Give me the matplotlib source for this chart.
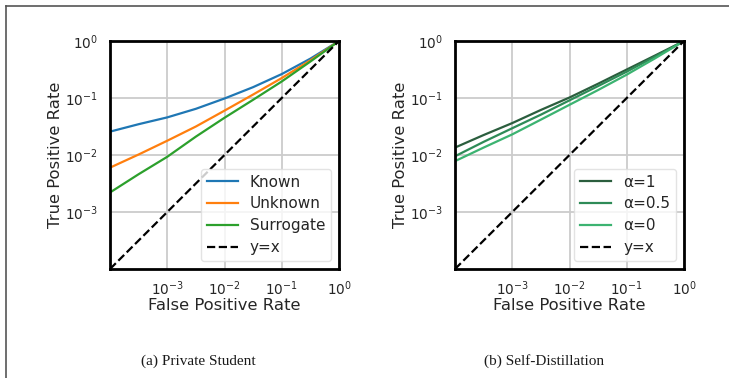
import matplotlib
matplotlib.use("Agg")
import matplotlib.pyplot as plt
from matplotlib.lines import Line2D

# ---- data ----
fpr = [1e-4, 3.16e-4, 1e-3, 3.16e-3, 1e-2, 3.16e-2, 1e-1, 3.16e-1, 1.0]

known = [0.0257, 0.0347, 0.0457, 0.0646, 0.098, 0.155, 0.263, 0.49, 1.0]
unknown = [0.0060, 0.0102, 0.0178, 0.0316, 0.060, 0.115, 0.224, 0.457, 1.0]
surrogate = [0.0022, 0.0046, 0.0093, 0.021, 0.045, 0.093, 0.195, 0.436, 1.0]

alpha1 = [0.0135, 0.0224, 0.0363, 0.0617, 0.102, 0.178, 0.316, 0.56, 1.0]
alpha05 = [0.0095, 0.017, 0.0295, 0.051, 0.091, 0.162, 0.29, 0.535, 1.0]
alpha0 = [0.0078, 0.0135, 0.023, 0.0417, 0.076, 0.138, 0.257, 0.50, 1.0]

diag = [1e-4, 1.0]

labels_a = ["Known", "Unknown", "Surrogate"]
labels_b = ["\u03b1=1", "\u03b1=0.5", "\u03b1=0"]
colors_a = ["#1f77b4", "#ff7f0e", "#2ca02c"]
colors_b = ["#2b5e3e", "#2e8b57", "#3cb371"]

tick_vals = [1e-3, 1e-2, 1e-1, 1.0]
tick_labels = [r"$10^{-3}$", r"$10^{-2}$", r"$10^{-1}$", r"$10^{0}$"]
captions = ["(a) Private Student", "(b) Self-Distillation"]

plt.rcParams['font.family'] = ['DejaVu Sans']

fig = plt.figure(figsize=(7.29, 3.78), dpi=100)
fig.patch.set_facecolor("white")

W, H = 729.0, 378.0
ax_a = fig.add_axes([110 / W, (H - 269) / H, 229 / W, 228 / H])
ax_b = fig.add_axes([455 / W, (H - 269) / H, 229 / W, 228 / H])


def style(ax):
    ax.set_xscale("log")
    ax.set_yscale("log")
    ax.set_xlim(1e-4, 1.0)
    ax.set_ylim(1e-4, 1.0)
    ax.set_xticks(tick_vals)
    ax.set_xticklabels(tick_labels)
    ax.set_yticks(tick_vals)
    ax.set_yticklabels(tick_labels)
    ax.minorticks_off()
    ax.grid(True, color="#cccccc", linewidth=1.3)
    ax.set_axisbelow(True)
    ax.tick_params(axis="x", length=0, pad=7.5, labelsize=9.8, colors="#262626")
    ax.tick_params(axis="y", length=0, pad=9, labelsize=9.8, colors="#262626")
    for s in ax.spines.values():
        s.set_color("black")
        s.set_linewidth(2.0)
    ax.set_xlabel("False Positive Rate", fontsize=11.8, color="#262626", labelpad=0)
    ax.set_ylabel("True Positive Rate", fontsize=11.8, color="#262626", labelpad=1)


for ys, lab, c in zip([known, unknown, surrogate], labels_a, colors_a):
    ax_a.plot(fpr, ys, color=c, lw=1.6, label=lab)
ax_a.plot(diag, diag, color="black", ls="--", lw=1.6, label="y=x")

for ys, lab, c in zip([alpha1, alpha05, alpha0], labels_b, colors_b):
    ax_b.plot(fpr, ys, color=c, lw=1.6, label=lab)
ax_b.plot(diag, diag, color="black", ls="--", lw=1.6, label="y=x")

for ax in (ax_a, ax_b):
    style(ax)
    leg = ax.legend(loc="lower right", fontsize=11.0, framealpha=0.8,
                    edgecolor="#dddddd", handlelength=2.0, labelspacing=0.45)
    for t in leg.get_texts():
        t.set_color("#262626")

# captions
fig.text(198 / W, 1 - 361 / H, captions[0], ha="center", va="center",
         family="Liberation Serif", fontsize=11.0, color="#1a1a1a")
fig.text(544 / W, 1 - 361 / H, captions[1], ha="center", va="center",
         family="Liberation Serif", fontsize=11.0, color="#1a1a1a")

# page frame lines (top and left)
fig.add_artist(Line2D([5.5 / W, 5.5 / W], [0, 1 - 5.5 / H], transform=fig.transFigure,
                      color="#555555", lw=1.2))
fig.add_artist(Line2D([5.5 / W, 1.0], [1 - 5.5 / H, 1 - 5.5 / H], transform=fig.transFigure,
                      color="#555555", lw=1.2))

fig.savefig("out.png", dpi=100, facecolor="white")
